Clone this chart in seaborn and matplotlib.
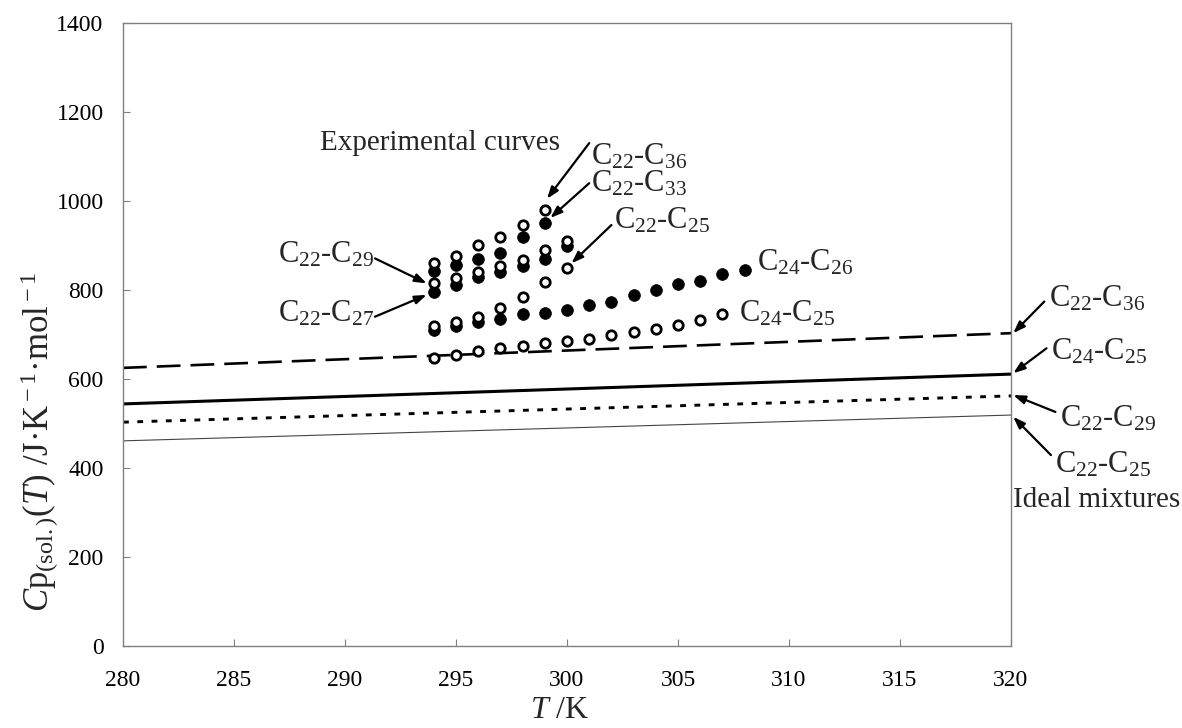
import matplotlib
matplotlib.use("Agg")
import matplotlib.pyplot as plt
import seaborn as sns
import pandas as pd

# ---------------- data ----------------
T_c22_36 = [294, 295, 296, 297, 298, 299]
cp_c22_36 = [860, 876, 901, 918, 947, 980]
T_c22_33 = [294, 295, 296, 297, 298, 299]
cp_c22_33 = [842, 856, 869, 883, 918, 951]
T_c22_29 = [294, 295, 296, 297, 298, 299, 300]
cp_c22_29 = [815, 826, 841, 853, 868, 889, 911]
T_c22_27 = [294, 295, 296, 297, 298, 299, 300]
cp_c22_27 = [796, 811, 829, 841, 855, 870, 898]
T_c22_25 = [294, 295, 296, 297, 298, 299, 300]
cp_c22_25 = [719, 728, 740, 760, 785, 817, 850]
T_c24_26 = [294, 295, 296, 297, 298, 299, 300, 301, 302, 303, 304, 305, 306, 307, 308]
cp_c24_26 = [709, 720, 728, 734, 745, 749, 755, 767, 774, 789, 799, 814, 820, 835, 846]
T_c24_25 = [294, 295, 296, 297, 298, 299, 300, 301, 302, 303, 304, 305, 306, 307]
cp_c24_25 = [648, 655, 664, 669, 674, 680, 685, 690, 698, 706, 713, 722, 732, 747]

T_ideal = [280, 320]
ideal_c22_36 = [625, 703]
ideal_c24_25 = [544, 611]
ideal_c22_29 = [503, 562]
ideal_c22_25 = [461, 519]

x_ticks = [280, 285, 290, 295, 300, 305, 310, 315, 320]
y_ticks = [0, 200, 400, 600, 800, 1000, 1200, 1400]

# ---------------- style ----------------
sns.set_style("ticks")
plt.rcParams["font.family"] = ["Liberation Serif", "DejaVu Serif"]
plt.rcParams["mathtext.fontset"] = "custom"
plt.rcParams["mathtext.rm"] = "Liberation Serif"
plt.rcParams["mathtext.it"] = "Liberation Serif:italic"
plt.rcParams["mathtext.bf"] = "Liberation Serif:bold"

fig = plt.figure(figsize=(11.82, 7.28), dpi=100)
ax = fig.add_axes([123 / 1182, 1 - 646 / 728, (1011 - 123) / 1182, (646 - 23) / 728])

# ideal-mixture lines
ideal = pd.DataFrame({"T": T_ideal * 4,
                      "cp": ideal_c22_36 + ideal_c24_25 + ideal_c22_29 + ideal_c22_25,
                      "s": ["a"] * 2 + ["b"] * 2 + ["c"] * 2 + ["d"] * 2})
sty = {"a": dict(color="black", lw=1.9, dashes=(9.0, 3.8)),
       "b": dict(color="black", lw=2.2),
       "c": dict(color="black", lw=2.1, dashes=(2.0, 2.9)),
       "d": dict(color="#444444", lw=0.8)}
for key, kw in sty.items():
    sub = ideal[ideal["s"] == key]
    dashes = kw.pop("dashes", None)
    sns.lineplot(data=sub, x="T", y="cp", ax=ax, **kw)
    if dashes is not None:
        ax.lines[-1].set_dashes(dashes)

# experimental points
open_series = [(T_c22_36, cp_c22_36), (T_c22_29, cp_c22_29), (T_c22_25, cp_c22_25), (T_c24_25, cp_c24_25)]
filled_series = [(T_c22_33, cp_c22_33), (T_c22_27, cp_c22_27), (T_c24_26, cp_c24_26)]
for Tx, cy in filled_series:
    sns.scatterplot(x=Tx, y=cy, ax=ax, marker="o", s=72, color="black",
                    edgecolor="black", linewidth=0.5, zorder=3)
for Tx, cy in open_series:
    sns.scatterplot(x=Tx, y=cy, ax=ax, marker="o", s=46, facecolor="white",
                    edgecolor="black", linewidth=2.0, zorder=4)

ax.set_xlim(280, 320)
ax.set_ylim(0, 1400)
ax.set_xticks(x_ticks)
ax.set_yticks(y_ticks)
ax.set_xlabel("")
ax.set_ylabel("")
for sp in ax.spines.values():
    sp.set_color("#808080")
    sp.set_linewidth(1.0)
ax.tick_params(direction="in", length=5, width=0.8, color="#808080",
               labelsize=17, labelcolor="black")
ax.tick_params(axis="x", pad=17)
ax.tick_params(axis="y", pad=14)

# annotations
lab = 22
arr = dict(arrowstyle="-|>,head_length=0.7,head_width=0.25", color="black", lw=1.6,
           shrinkA=0, shrinkB=0)
ann = [
    (r"C$_{22}$-C$_{36}$", (299.1, 1005), (301.0, 1130), (301.1, 1082)),
    (r"C$_{22}$-C$_{33}$", (299.25, 962), (301.0, 1040), (301.1, 1022)),
    (r"C$_{22}$-C$_{25}$", (300.2, 860), (302.0, 946), (302.1, 939)),
    (r"C$_{22}$-C$_{36}$", (320.1, 703), (321.5, 774), (321.7, 764)),
    (r"C$_{24}$-C$_{25}$", (320.1, 613), (321.6, 669), (321.8, 643)),
    (r"C$_{22}$-C$_{29}$", (320.1, 564), (322.0, 526), (322.2, 493)),
    (r"C$_{22}$-C$_{25}$", (320.1, 515), (321.8, 429), (322.0, 389)),
]
for txt, head, tail, tpos in ann:
    ax.annotate("", xy=head, xytext=tail, arrowprops=arr, annotation_clip=False)
    ax.text(tpos[0], tpos[1], txt, fontsize=lab, ha="left", va="baseline", clip_on=False)

# left-side labels (text to the left of arrows)
ax.annotate("", xy=(293.68, 815), xytext=(291.35, 871), arrowprops=arr)
ax.text(291.3, 861, r"C$_{22}$-C$_{29}$", fontsize=lab, ha="right", va="baseline")
ax.annotate("", xy=(293.68, 789), xytext=(291.35, 740), arrowprops=arr)
ax.text(291.3, 729, r"C$_{22}$-C$_{27}$", fontsize=lab, ha="right", va="baseline")

ax.text(308.55, 843, r"C$_{24}$-C$_{26}$", fontsize=lab, ha="left", va="baseline")
ax.text(307.75, 730, r"C$_{24}$-C$_{25}$", fontsize=lab, ha="left", va="baseline")

ax.text(288.87, 1115, "Experimental curves", fontsize=21, ha="left", va="baseline")
ax.text(320.1, 313, "Ideal mixtures", fontsize=21, ha="left", va="baseline", clip_on=False)

fig.text(40 / 1182, 1 - 612 / 728,
         r"$\mathit{C}$p$_{\rm (sol.)}$($\mathit{T}$) /J·K$^{\rm -1}$·mol$^{\rm -1}$",
         rotation=90, fontsize=25, ha="center", va="bottom")
fig.text(560 / 1182, 1 - 711 / 728, r"$\mathit{T}$ /K", fontsize=23, ha="center", va="center")

fig.savefig("out.png", dpi=100)
